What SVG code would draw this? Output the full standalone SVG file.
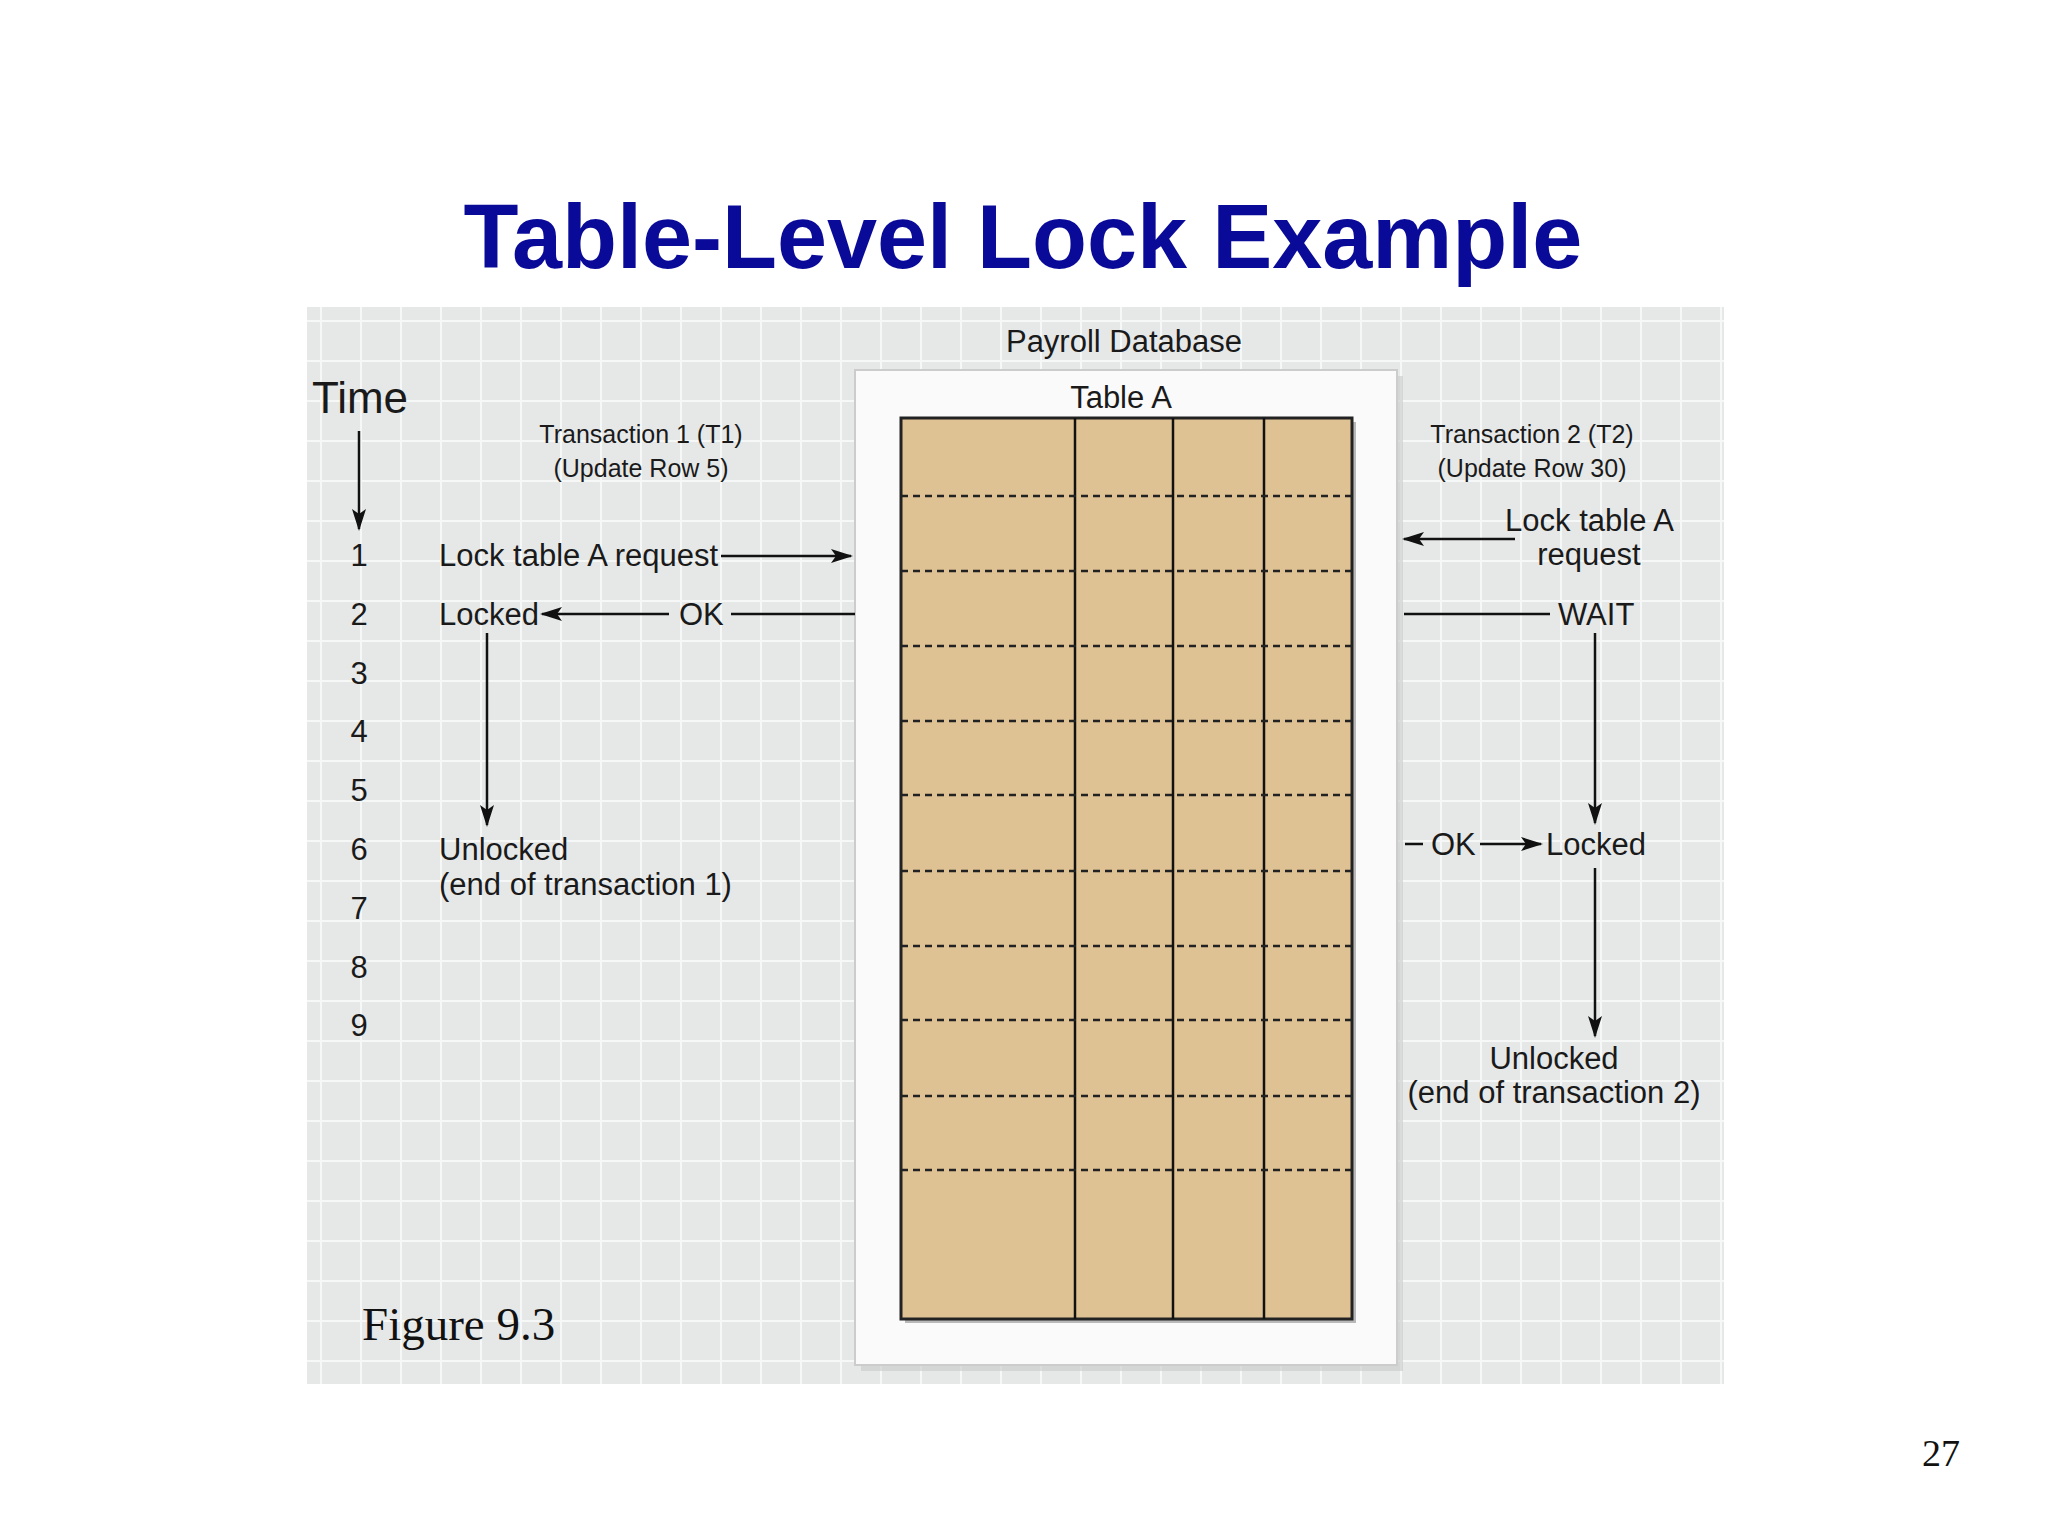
<svg xmlns="http://www.w3.org/2000/svg" width="2048" height="1536" viewBox="0 0 2048 1536">
<defs>
<marker id="ah" markerWidth="10" markerHeight="8" refX="9" refY="4" orient="auto" markerUnits="userSpaceOnUse" viewBox="0 0 10 8"><path d="M0,0 L10,4 L0,8 z" fill="#111"/></marker>
<marker id="ahb" markerWidth="22" markerHeight="14" refX="20" refY="7" orient="auto" markerUnits="userSpaceOnUse"><path d="M0,0 L22,7 L0,14 L5,7 z" fill="#111"/></marker>
<pattern id="grid" width="40" height="40" patternUnits="userSpaceOnUse"><rect width="40" height="40" fill="#e6e8e8"/><path d="M0,0.5 H40 M0.5,0 V40" stroke="#f6f7f7" stroke-width="3"/></pattern>
</defs>
<style>
.t{font-family:"Liberation Sans",Arial,sans-serif;fill:#1a1a1a}
.l{font-size:31px}
.s{font-size:25px}
.ln{stroke:#111;stroke-width:2.5;fill:none}
.dash{stroke:#222;stroke-width:2.5;stroke-dasharray:7 5}
</style>
<rect width="2048" height="1536" fill="#fff"/>
<text x="1023" y="268" text-anchor="middle" font-family="Liberation Sans,Arial,sans-serif" font-weight="bold" font-size="90" fill="#0a0a99">Table-Level Lock Example</text>
<rect x="307" y="307" width="1417" height="1077" fill="url(#grid)"/>
<g id="table">
<rect x="861" y="376" width="542" height="995" fill="#c8c8c8" opacity="0.6"/>
<rect x="855" y="370" width="542" height="995" fill="#fafafa" stroke="#ccc" stroke-width="2"/>
<rect x="905" y="422" width="451" height="901" fill="#555" opacity="0.4"/>
<rect x="901" y="418" width="451" height="901" fill="#dfc293" stroke="#222" stroke-width="3"/>
<path class="ln" d="M1075,418 V1319 M1173,418 V1319 M1264,418 V1319" stroke-width="3"/>
<path class="dash" d="M901,496 H1352 M901,571 H1352 M901,646 H1352 M901,721 H1352 M901,795 H1352 M901,871 H1352 M901,946 H1352 M901,1020 H1352 M901,1096 H1352 M901,1170 H1352"/>
<text class="t" x="1124" y="352" text-anchor="middle" font-size="31">Payroll Database</text>
<text class="t" x="1121" y="408" text-anchor="middle" font-size="31">Table A</text>
</g>
<g id="time">
<text class="t" x="360" y="413" text-anchor="middle" font-size="44">Time</text>
<g class="t l" text-anchor="middle" dominant-baseline="central">
<text x="359" y="555">1</text><text x="359" y="614">2</text><text x="359" y="673">3</text><text x="359" y="731">4</text><text x="359" y="790">5</text><text x="359" y="849">6</text><text x="359" y="908">7</text><text x="359" y="967">8</text><text x="359" y="1025">9</text>
</g>
</g>
<g id="t1">
<text class="t s" x="641" y="443" text-anchor="middle">Transaction 1 (T1)</text>
<text class="t s" x="641" y="477" text-anchor="middle">(Update Row 5)</text>
<text class="t l" x="439" y="566">Lock table A request</text>
<text class="t l" x="439" y="625">Locked</text>
<text class="t l" x="679" y="625">OK</text>
<text class="t l" x="439" y="860">Unlocked</text>
<text class="t l" x="439" y="895">(end of transaction 1)</text>
</g>
<g id="t2">
<text class="t s" x="1532" y="443" text-anchor="middle">Transaction 2 (T2)</text>
<text class="t s" x="1532" y="477" text-anchor="middle">(Update Row 30)</text>
<text class="t l" x="1674" y="531" text-anchor="end">Lock table A</text>
<text class="t l" x="1589" y="565" text-anchor="middle">request</text>
<text class="t l" x="1558" y="625">WAIT</text>
<text class="t l" x="1431" y="855">OK</text>
<text class="t l" x="1546" y="855">Locked</text>
<text class="t l" x="1554" y="1069" text-anchor="middle">Unlocked</text>
<text class="t l" x="1554" y="1103" text-anchor="middle">(end of transaction 2)</text>
</g>
<g id="connectors">
<path class="ln" d="M359,431 V529" marker-end="url(#ahb)"/>
<path class="ln" d="M721,556 H851" marker-end="url(#ahb)"/>
<path class="ln" d="M669,614 H542" marker-end="url(#ahb)"/>
<path class="ln" d="M731,614 H855"/>
<path class="ln" d="M487,633 V825" marker-end="url(#ahb)"/>
<path class="ln" d="M1515,539 H1404" marker-end="url(#ahb)"/>
<path class="ln" d="M1404,614 H1550"/>
<path class="ln" d="M1595,633 V823" marker-end="url(#ahb)"/>
<path class="ln" d="M1405,844 H1423"/>
<path class="ln" d="M1480,844 H1541" marker-end="url(#ahb)"/>
<path class="ln" d="M1595,868 V1036" marker-end="url(#ahb)"/>
</g>
<text x="362" y="1340" font-family="Liberation Serif,serif" font-size="47" fill="#111">Figure 9.3</text>
<text x="1960" y="1466" text-anchor="end" font-family="Liberation Serif,serif" font-size="38" fill="#111">27</text>
</svg>
